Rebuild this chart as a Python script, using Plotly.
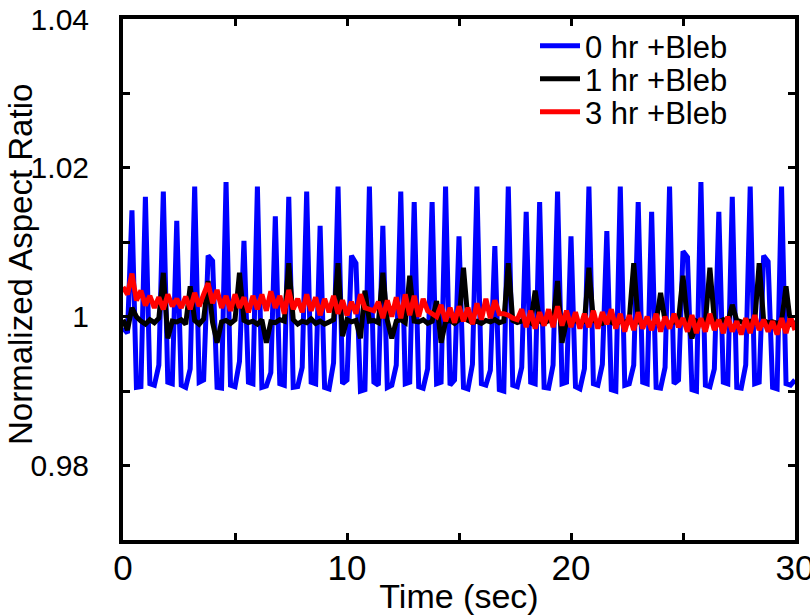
import plotly.graph_objects as go

# Time samples (sec), 0.2 s step, 0..30
time_sec = [round(i * 0.2, 1) for i in range(151)]

bleb_0hr = [
    0.9985, 0.9978, 1.0143, 0.9905, 0.9906, 1.0161, 0.9910, 0.9908, 0.9935, 1.0168,
    0.9912, 0.9910, 1.0129, 0.9908, 0.9905, 0.9930, 1.0175, 0.9912, 0.9915, 1.0082,
    1.0075, 0.9905, 0.9904, 1.0181, 0.9908, 0.9906, 0.9940, 1.0102, 0.9912, 0.9910,
    1.0175, 0.9905, 0.9907, 0.9925, 1.0135, 0.9910, 0.9908, 1.0161, 0.9905, 0.9906,
    0.9932, 1.0168, 0.9912, 0.9910, 1.0122, 0.9905, 0.9903, 0.9938, 1.0175, 0.9910,
    0.9915, 1.0082, 1.0072, 0.9900, 0.9902, 1.0175, 0.9912, 0.9908, 1.0122, 0.9905,
    0.9908, 0.9935, 1.0168, 0.9910, 0.9912, 1.0154, 0.9906, 0.9904, 0.9930, 1.0154,
    0.9910, 0.9912, 1.0175, 0.9908, 0.9915, 1.0108, 0.9905, 0.9903, 0.9936, 1.0175,
    0.9910, 0.9908, 0.9928, 1.0095, 0.9902, 0.9900, 1.0175, 0.9908, 0.9906, 0.9932,
    1.0141, 0.9912, 0.9910, 1.0154, 0.9905, 0.9904, 0.9935, 1.0168, 0.9910, 0.9912,
    1.0108, 0.9906, 0.9903, 0.9930, 1.0175, 0.9910, 0.9908, 0.9936, 1.0115, 0.9902,
    0.9900, 1.0175, 0.9908, 0.9910, 0.9935, 1.0154, 0.9912, 0.9910, 1.0141, 0.9905,
    0.9904, 0.9932, 1.0175, 0.9910, 0.9915, 1.0088, 1.0080, 0.9902, 0.9900, 1.0181,
    0.9908, 0.9906, 0.9930, 1.0141, 0.9912, 0.9910, 1.0161, 0.9905, 0.9904, 0.9935,
    1.0175, 0.9910, 0.9912, 1.0082, 1.0074, 0.9905, 0.9903, 1.0175, 0.9910, 0.9908,
    0.9915,
]

bleb_1hr = [
    0.9996, 0.9982, 1.0012, 1.0000, 0.9994, 0.9990, 0.9996, 0.9992, 0.9998, 1.0059,
    0.9971, 0.9994, 0.9993, 0.9996, 0.9990, 1.0041, 0.9995, 0.9990, 0.9997, 1.0048,
    0.9992, 0.9965, 0.9993, 0.9995, 0.9991, 0.9996, 1.0059, 0.9995, 0.9992, 0.9994,
    0.9990, 0.9996, 0.9965, 0.9993, 0.9992, 0.9996, 0.9994, 1.0072, 0.9996, 0.9990,
    0.9994, 0.9992, 0.9997, 0.9991, 0.9994, 0.9990, 0.9993, 0.9996, 1.0072, 0.9974,
    0.9996, 0.9993, 0.9995, 0.9971, 1.0035, 0.9994, 0.9995, 0.9992, 1.0059, 0.9995,
    0.9971, 0.9994, 0.9996, 0.9992, 1.0055, 0.9994, 0.9993, 0.9996, 0.9991, 0.9994,
    1.0021, 0.9965, 0.9993, 0.9995, 0.9991, 0.9996, 1.0066, 0.9995, 0.9992, 0.9994,
    0.9991, 0.9995, 0.9993, 0.9996, 0.9992, 0.9994, 1.0072, 0.9995, 0.9992, 0.9994,
    0.9996, 0.9992, 1.0035, 0.9994, 0.9991, 0.9995, 0.9993, 1.0048, 0.9965, 0.9994,
    0.9993, 0.9995, 0.9991, 0.9994, 1.0066, 0.9995, 0.9993, 0.9991, 0.9995, 0.9993,
    0.9990, 0.9994, 0.9992, 0.9996, 1.0072, 0.9993, 0.9991, 0.9994, 0.9990, 0.9993,
    1.0032, 0.9994, 0.9991, 0.9993, 0.9996, 1.0055, 0.9993, 0.9971, 0.9994, 0.9991,
    0.9993, 1.0066, 0.9995, 0.9993, 0.9996, 0.9992, 1.0016, 0.9995, 0.9993, 0.9991,
    0.9994, 0.9992, 1.0072, 0.9995, 0.9992, 0.9993, 0.9991, 0.9994, 1.0041, 0.9990,
    0.9994,
]

bleb_3hr = [
    1.0040, 1.0030, 1.0058, 1.0022, 1.0035, 1.0015, 1.0028, 1.0012, 1.0026, 1.0010,
    1.0030, 1.0014, 1.0024, 1.0012, 1.0027, 1.0010, 1.0032, 1.0014, 1.0030, 1.0045,
    1.0018, 1.0036, 1.0012, 1.0028, 1.0008, 1.0030, 1.0012, 1.0026, 1.0006, 1.0028,
    1.0010, 1.0030, 1.0008, 1.0034, 1.0012, 1.0028, 1.0004, 1.0036, 1.0010, 1.0024,
    1.0006, 1.0030, 1.0008, 1.0026, 1.0002, 1.0024, 1.0006, 1.0028, 1.0004, 1.0022,
    1.0002, 1.0020, 1.0004, 1.0030, 1.0012, 1.0010, 1.0008, 1.0020, 0.9998, 1.0022,
    1.0000, 1.0026, 0.9998, 1.0030, 1.0002, 1.0028, 1.0000, 1.0024, 1.0008, 1.0004,
    1.0000, 1.0016, 0.9994, 1.0012, 0.9992, 1.0014, 0.9994, 1.0012, 0.9990, 1.0018,
    0.9996, 1.0024, 0.9998, 1.0022, 1.0004, 1.0004, 1.0002, 0.9998, 0.9996, 1.0010,
    0.9986, 1.0008, 0.9984, 1.0006, 0.9988, 1.0010, 0.9986, 1.0014, 0.9988, 1.0008,
    0.9986, 1.0006, 0.9984, 1.0004, 0.9986, 1.0008, 0.9984, 1.0006, 0.9990, 1.0010,
    0.9984, 1.0004, 0.9980, 1.0002, 0.9982, 1.0006, 0.9984, 1.0000, 0.9982, 1.0004,
    0.9980, 1.0000, 0.9984, 1.0004, 0.9986, 0.9998, 0.9980, 1.0002, 0.9978, 0.9998,
    0.9980, 1.0004, 0.9982, 0.9996, 0.9978, 1.0000, 0.9980, 0.9994, 0.9976, 0.9998,
    0.9978, 1.0002, 0.9982, 0.9996, 0.9980, 0.9994, 0.9976, 0.9998, 0.9978, 1.0000,
    0.9982,
]

series_names = ["0 hr +Bleb", "1 hr +Bleb", "3 hr +Bleb"]
series_colors = ["#0000FF", "#000000", "#FF0000"]

x_tickvals = [0, 5, 10, 15, 20, 25, 30]
x_ticktext = ["0", "", "10", "", "20", "", "30"]
y_tickvals = [0.97, 0.98, 0.99, 1.00, 1.01, 1.02, 1.03, 1.04]
y_ticktext = ["", "0.98", "", "1", "", "1.02", "", "1.04"]

FONT = "Liberation Sans, Arial, Helvetica, sans-serif"

W, H = 810, 615
ML, MR, MT, MB = 123, 15, 19, 75
PW, PH = W - ML - MR, H - MT - MB

fig = go.Figure()
legend_ids = ["legend", "legend2", "legend3"]
for name, ys, col, lg in zip(series_names, [bleb_0hr, bleb_1hr, bleb_3hr], series_colors, legend_ids):
    fig.add_trace(go.Scatter(x=time_sec, y=ys, mode="lines", name=name, legend=lg,
                             line=dict(color=col, width=5)))

axis_common = dict(showline=True, linecolor="black", linewidth=4, mirror="ticks",
                   ticks="inside", ticklen=7, tickwidth=3, tickcolor="black",
                   showgrid=False, zeroline=False, automargin=False,
                   ticklabeloverflow="allow")

# legend rows (px from top) -> paper coords
row_px = [46, 79, 112]
legend_left_px = 535


def legend_cfg(ypx):
    return dict(x=(legend_left_px - ML) / PW, y=1 - (ypx - MT) / PH,
                xanchor="left", yanchor="middle",
                bgcolor="rgba(0,0,0,0)", borderwidth=0, itemwidth=40,
                font=dict(family=FONT, size=31, color="black"))


fig.update_layout(
    width=W, height=H,
    margin=dict(l=ML, r=MR, t=MT, b=MB, autoexpand=False),
    paper_bgcolor="white", plot_bgcolor="white",
    font=dict(family=FONT, color="black"),
    xaxis=dict(range=[0, 30], tickvals=x_tickvals, ticktext=x_ticktext,
               ticklabelstandoff=-6,
               tickfont=dict(family=FONT, size=35, color="black"),
               title=dict(text="Time (sec)", font=dict(family=FONT, size=34), standoff=0),
               **axis_common),
    yaxis=dict(range=[0.97, 1.04], tickvals=y_tickvals, ticktext=y_ticktext,
               ticklabelstandoff=24,
               tickfont=dict(family=FONT, size=30, color="black"),
               **axis_common),
    legend=legend_cfg(row_px[0]),
    legend2=legend_cfg(row_px[1]),
    legend3=legend_cfg(row_px[2]),
    showlegend=True,
    annotations=[dict(text="Normalized Aspect Ratio", textangle=-90,
                      xref="paper", yref="paper",
                      x=(20 - ML) / PW, y=1 - (265 - MT) / PH,
                      xanchor="center", yanchor="middle", showarrow=False,
                      font=dict(family=FONT, size=33, color="black"))],
)

# remove the page's default body margin so the 810x615 figure fills the window
fig.write_html("out.html", config={"displayModeBar": False},
               post_script="document.body.style.margin='0px';")
